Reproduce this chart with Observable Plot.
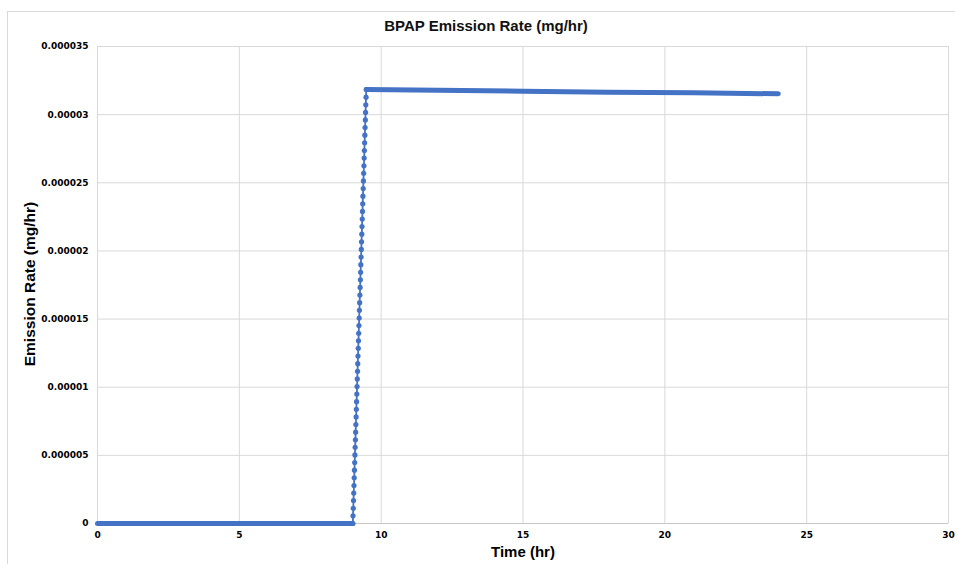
<!DOCTYPE html>
<html>
<head>
<meta charset="utf-8">
<script src="https://cdn.jsdelivr.net/npm/d3@7"></script>
<script src="https://cdn.jsdelivr.net/npm/@observablehq/plot@0.6"></script>
<style>
  body { margin: 0; background: #fff; }
  #frame { position: absolute; left: 7px; top: 11px; width: 1000px; height: 1000px; border: 1px solid #d9d9d9; }
  #chart { position: absolute; left: 0; top: 0; }
  #chart svg { overflow: visible; }
</style>
</head>
<body>
<div id="frame"></div>
<div id="chart"></div>
<script>
const title = "BPAP Emission Rate (mg/hr)";
const xTitle = "Time (hr)";
const yTitle = "Emission Rate (mg/hr)";

const xTicks = [0, 5, 10, 15, 20, 25, 30];
const yTicks = [0, 0.000005, 0.00001, 0.000015, 0.00002, 0.000025, 0.00003, 0.000035];
const yTickLabels = ["0", "0.000005", "0.00001", "0.000015", "0.00002", "0.000025", "0.00003", "0.000035"];

// Flat zero section (dense overlapping markers)
const lowTime = [0, 9];
const lowRate = [0, 0];

// Ramp section (individual markers visible), rate in 1e-6 mg/hr
const rampTime = [9.000, 9.008, 9.017, 9.025, 9.033, 9.042, 9.050, 9.058, 9.067, 9.075,
  9.083, 9.092, 9.100, 9.108, 9.117, 9.125, 9.133, 9.142, 9.150, 9.158,
  9.167, 9.175, 9.183, 9.192, 9.200, 9.208, 9.217, 9.225, 9.233, 9.242,
  9.250, 9.258, 9.267, 9.275, 9.283, 9.292, 9.300, 9.308, 9.317, 9.325,
  9.333, 9.342, 9.350, 9.358, 9.367, 9.375, 9.383, 9.392, 9.400, 9.408,
  9.417, 9.425, 9.433, 9.442, 9.450, 9.458, 9.467, 9.475];
const rampRateMicro = [0, 0.56, 1.12, 1.68, 2.23, 2.79, 3.35, 3.91, 4.47, 5.03,
  5.59, 6.14, 6.70, 7.26, 7.82, 8.38, 8.94, 9.50, 10.05, 10.61,
  11.17, 11.73, 12.29, 12.85, 13.41, 13.96, 14.52, 15.08, 15.64, 16.20,
  16.76, 17.32, 17.88, 18.43, 18.99, 19.55, 20.11, 20.67, 21.23, 21.79,
  22.34, 22.90, 23.46, 24.02, 24.58, 25.14, 25.70, 26.25, 26.81, 27.37,
  27.93, 28.49, 29.05, 29.61, 30.16, 30.72, 31.28, 31.84];

// Plateau section (dense overlapping markers), rate in 1e-6 mg/hr
const highTime = [9.475, 12, 15, 18, 21, 24];
const highRateMicro = [31.84, 31.79, 31.72, 31.65, 31.60, 31.53];

const low = lowTime.map((t, i) => ({t, r: lowRate[i]}));
const ramp = rampTime.map((t, i) => ({t, r: rampRateMicro[i] * 1e-6}));
const high = highTime.map((t, i) => ({t, r: highRateMicro[i] * 1e-6}));

const blue = "#4472C4";
const grid = "#d9d9d9";

const chart = Plot.plot({
  width: 955,
  height: 564,
  marginLeft: 97,
  marginRight: 7,
  marginTop: 46,
  marginBottom: 41,
  style: { fontFamily: "DejaVu Sans", fontSize: "9px", fontWeight: "bold", color: "#000", background: "transparent" },
  x: { domain: [0, 30], label: null },
  y: { domain: [0, 0.000035], label: null },
  marks: [
    Plot.gridX(xTicks, { stroke: grid, strokeOpacity: 1 }),
    Plot.gridY(yTicks, { stroke: grid, strokeOpacity: 1 }),
    Plot.ruleY([0], { stroke: "#c6c6c6", strokeWidth: 1 }),
    Plot.axisX({ ticks: xTicks, tickSize: 0, tickPadding: 8, tickFormat: d => String(d), label: null, fontWeight: "bold" }),
    Plot.axisY({ ticks: yTicks, tickSize: 0, tickPadding: 9, tickFormat: d => yTickLabels[yTicks.indexOf(d)], label: null, fontWeight: "bold" }),
    Plot.line(low, { x: "t", y: "r", stroke: blue, strokeWidth: 5, strokeLinecap: "round" }),
    Plot.line(ramp, { x: "t", y: "r", stroke: blue, strokeWidth: 1.8 }),
    Plot.dot(ramp, { x: "t", y: "r", r: 2.6, fill: blue, stroke: "none" }),
    Plot.line(high, { x: "t", y: "r", stroke: blue, strokeWidth: 5, strokeLinecap: "round" }),
    Plot.text([title], { frameAnchor: "top", lineAnchor: "middle", dx: -37, dy: -20, fontSize: 15, fontWeight: "bold", fontFamily: "Liberation Sans", fill: "#111" }),
    Plot.text([xTitle], { frameAnchor: "bottom", lineAnchor: "middle", dy: 29, fontSize: 15, fontWeight: "bold", fontFamily: "Liberation Sans", fill: "#000" }),
    Plot.text([yTitle], { frameAnchor: "left", textAnchor: "middle", lineAnchor: "middle", rotate: -90, dx: -67, dy: -1, fontSize: 15.5, fontWeight: "bold", fontFamily: "Liberation Sans", fill: "#000" })
  ]
});
document.getElementById("chart").appendChild(chart);
</script>
</body>
</html>
